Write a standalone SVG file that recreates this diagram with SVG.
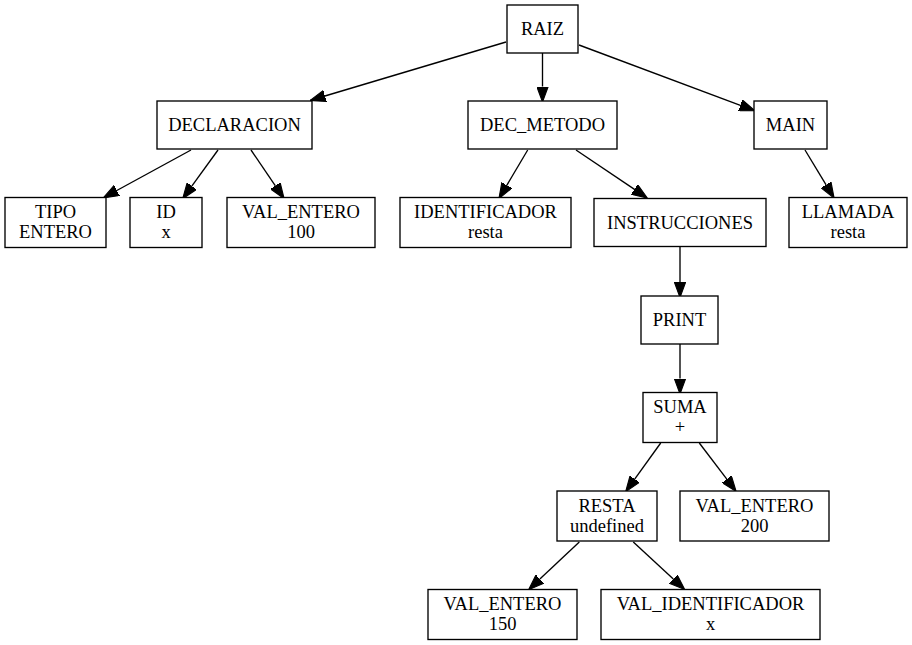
<svg xmlns="http://www.w3.org/2000/svg" width="912" height="645" viewBox="0 0 912 645">
<style>
.n rect{fill:#fff;stroke:#000;stroke-width:1.35}
.n text{font-family:"Liberation Serif","Times New Roman",serif;font-size:18.5px;fill:#000;text-anchor:middle}
.e line{stroke:#000;stroke-width:1.35;fill:none}
</style>
<defs>
<marker id="arr" markerUnits="userSpaceOnUse" markerWidth="16" markerHeight="12" refX="0" refY="5" orient="auto" viewBox="0 0 14 10">
<path d="M0,0 L13.5,5 L0,10 Z" fill="#000" stroke="#000" stroke-width="1"/>
</marker>
</defs>
<rect width="912" height="645" fill="#fff"/>
<g id="edges" class="e">
<line x1="506" y1="42" x2="324.9" y2="96" marker-end="url(#arr)"/>
<line x1="542.5" y1="53" x2="542.5" y2="86.5" marker-end="url(#arr)"/>
<line x1="579" y1="45" x2="740.4" y2="105.3" marker-end="url(#arr)"/>
<line x1="191" y1="150" x2="116.8" y2="190.5" marker-end="url(#arr)"/>
<line x1="218" y1="150" x2="191.8" y2="186.1" marker-end="url(#arr)"/>
<line x1="251" y1="150" x2="275.4" y2="185.8" marker-end="url(#arr)"/>
<line x1="527.7" y1="150" x2="506.8" y2="185.3" marker-end="url(#arr)"/>
<line x1="576" y1="150" x2="634.5" y2="189.4" marker-end="url(#arr)"/>
<line x1="805" y1="150" x2="826.1" y2="184.9" marker-end="url(#arr)"/>
<line x1="680" y1="247" x2="680" y2="282" marker-end="url(#arr)"/>
<line x1="680" y1="343.5" x2="680" y2="378.5" marker-end="url(#arr)"/>
<line x1="660.7" y1="443" x2="634.7" y2="479.1" marker-end="url(#arr)"/>
<line x1="699.3" y1="443" x2="726.8" y2="479.2" marker-end="url(#arr)"/>
<line x1="579.3" y1="542" x2="539.9" y2="579.1" marker-end="url(#arr)"/>
<line x1="633.3" y1="542" x2="673.3" y2="579" marker-end="url(#arr)"/>
</g>
<g id="RAIZ" class="n"><rect x="507" y="5" width="71" height="48"/><text x="542.5" y="35">RAIZ</text></g>
<g id="DECLARACION" class="n"><rect x="157" y="101" width="155" height="48"/><text x="234.5" y="131">DECLARACION</text></g>
<g id="DEC_METODO" class="n"><rect x="468" y="101" width="149" height="48"/><text x="542.5" y="131">DEC_METODO</text></g>
<g id="MAIN" class="n"><rect x="754" y="101" width="73" height="48"/><text x="790.5" y="131">MAIN</text></g>
<g id="TIPO" class="n"><rect x="5" y="197.5" width="101" height="50"/><text x="55.5" y="218">TIPO</text><text x="55.5" y="238">ENTERO</text></g>
<g id="ID" class="n"><rect x="130" y="197.5" width="72" height="50"/><text x="166" y="218">ID</text><text x="166" y="238">x</text></g>
<g id="VAL_ENTERO_100" class="n"><rect x="227" y="197.5" width="148" height="50"/><text x="301" y="218">VAL_ENTERO</text><text x="301" y="238">100</text></g>
<g id="IDENTIFICADOR" class="n"><rect x="400" y="197.5" width="171" height="50"/><text x="485.5" y="218">IDENTIFICADOR</text><text x="485.5" y="238">resta</text></g>
<g id="INSTRUCCIONES" class="n"><rect x="594" y="198.5" width="172" height="48"/><text x="680" y="228.5">INSTRUCCIONES</text></g>
<g id="LLAMADA" class="n"><rect x="789" y="197.5" width="118" height="50"/><text x="848" y="218">LLAMADA</text><text x="848" y="238">resta</text></g>
<g id="PRINT" class="n"><rect x="641" y="296" width="77" height="48"/><text x="679.5" y="326">PRINT</text></g>
<g id="SUMA" class="n"><rect x="643" y="392.5" width="74" height="50"/><text x="680" y="413">SUMA</text><text x="680" y="433">+</text></g>
<g id="RESTA" class="n"><rect x="557" y="491" width="100" height="50"/><text x="607" y="511.5">RESTA</text><text x="607" y="531.5">undefined</text></g>
<g id="VAL_ENTERO_200" class="n"><rect x="680" y="491" width="149" height="50"/><text x="754.5" y="511.5">VAL_ENTERO</text><text x="754.5" y="531.5">200</text></g>
<g id="VAL_ENTERO_150" class="n"><rect x="428" y="589.5" width="149" height="50"/><text x="502.5" y="610">VAL_ENTERO</text><text x="502.5" y="630">150</text></g>
<g id="VAL_IDENTIFICADOR" class="n"><rect x="601" y="589.5" width="219" height="50"/><text x="710.5" y="610">VAL_IDENTIFICADOR</text><text x="710.5" y="630">x</text></g>
</svg>
